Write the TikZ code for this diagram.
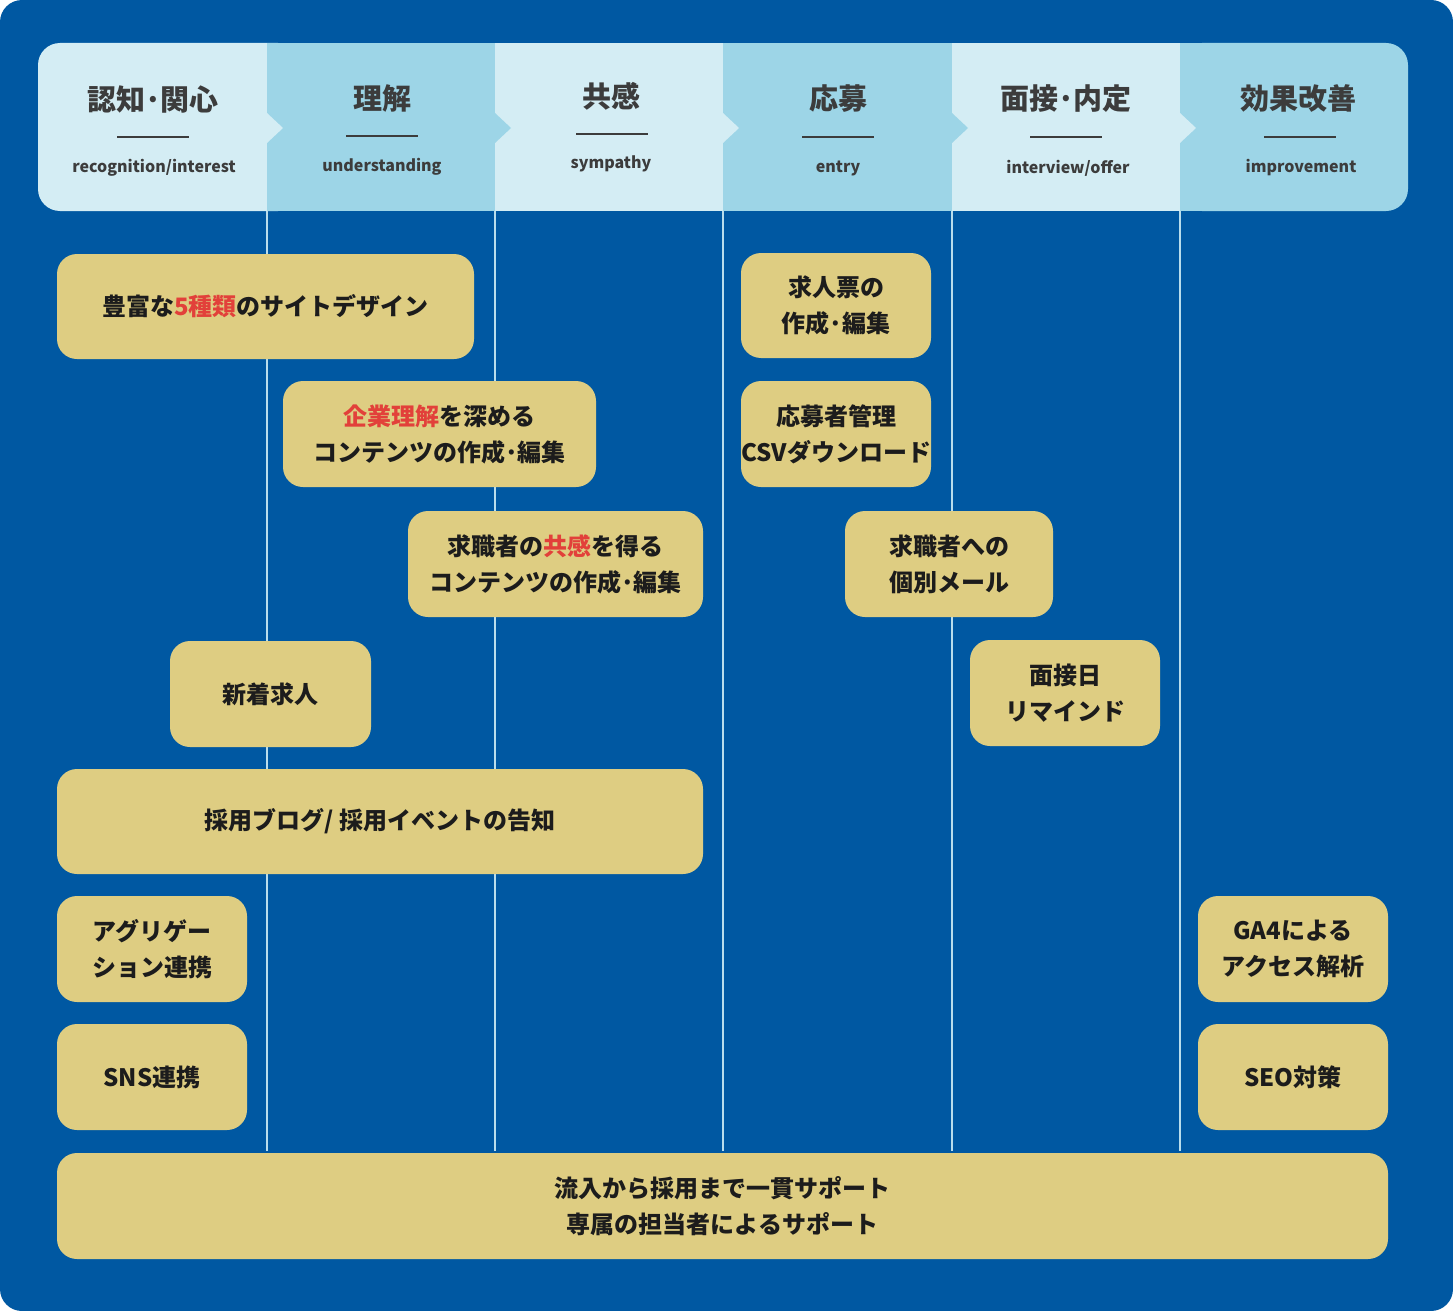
\documentclass[tikz,border=0pt]{standalone}
\usepackage{fontspec}
\setmainfont{Noto Sans CJK JP}
\definecolor{bgblue}{HTML}{0058A2}
\definecolor{hlight}{HTML}{D4EDF4}
\definecolor{hdark}{HTML}{9DD5E7}
\definecolor{gold}{HTML}{DECD82}
\definecolor{hred}{HTML}{E2403A}
\definecolor{htext}{HTML}{3C3C3C}
\definecolor{btext}{HTML}{1C1C1C}
\definecolor{vline}{HTML}{B9DDEC}
\tikzset{
  box/.style={fill=gold, rounded corners=20pt, inner sep=0pt, align=center,
    text=btext, font=\fontsize{24}{36}\selectfont\bfseries},
  htitle/.style={text=htext, font=\fontsize{29}{34}\selectfont\bfseries, inner sep=0pt},
  hsub/.style={text=htext, font=\fontsize{16}{18}\selectfont\bfseries, inner sep=0pt},
  hrule/.style={draw=htext, line width=1.6pt},
  colline/.style={draw=vline, line width=1.3pt}
}
\newcommand{\rd}[1]{\textcolor{hred}{#1}}
\newcommand{\dt}{\kern-0.05em·\kern-0.05em}
\begin{document}
\begin{tikzpicture}[x=1pt,y=-1pt]
\useasboundingbox (0,0) rectangle (1453,1311);
\fill[white] (0,0) rectangle (1453,1311);
\fill[bgblue, rounded corners=22pt] (0,0) rectangle (1453,1311);
% header columns
\fill[hdark, rounded corners=22pt] (1180,43) rectangle (1408,211);
\fill[hdark] (1180,43) rectangle (1240,211);
\fill[hlight, rounded corners=22pt] (38,43) rectangle (300,211);
\fill[hdark] (267,43) rectangle (495,211);
\fill[hlight] (495,43) rectangle (723,211);
\fill[hdark] (723,43) rectangle (952,211);
\fill[hlight] (952,43) rectangle (1180,211);
% chevrons
\fill[hlight] (267,113) -- (283,128) -- (267,143) -- cycle;
\fill[hdark] (495,113) -- (511,128) -- (495,143) -- cycle;
\fill[hlight] (723,113) -- (739,128) -- (723,143) -- cycle;
\fill[hdark] (952,113) -- (968,128) -- (952,143) -- cycle;
\fill[hlight] (1180,113) -- (1196,128) -- (1180,143) -- cycle;
% column lines
\foreach \x/\n in {267/a,495/b,723/c,952/d,1180/e}{
  \coordinate (top\n) at (\x,211);
  \coordinate (bot\n) at (\x,1151);
  \draw[colline] (top\n) -- (bot\n);
}
% header texts
\node[htitle] (t1) at (153,99) {認知\dt 関心};
\node[htitle] (t2) at (382,98) {理解};
\node[htitle] (t3) at (611,96) {共感};
\node[htitle] (t4) at (838,99) {応募};
\node[htitle] (t5) at (1066,99) {面接\dt 内定};
\node[htitle] (t6) at (1298,99) {効果改善};
\foreach \c/\y in {153/137,382/136,612/134,838/137,1066/137,1300/137}{
  \draw[hrule] (\c-36,\y) -- (\c+36,\y);
}
\node[hsub] (s1) at (154,168) {recognition/interest};
\node[hsub] (s2) at (382,167) {understanding};
\node[hsub] (s3) at (611,164) {sympathy};
\node[hsub] (s4) at (838,168) {entry};
\node[hsub] (s5) at (1068,168) {interview/offer};
\node[hsub] (s6) at (1301,168) {improvement};
% boxes
\node[box, minimum width=417pt, minimum height=105pt] (b1) at (265.5,306.5) {豊富な\rd{5種類}のサイトデザイン};
\node[box, minimum width=313pt, minimum height=106pt] (b2) at (439.5,434) {\rd{企業理解}を深める\\コンテンツの作成\dt 編集};
\node[box, minimum width=295pt, minimum height=106pt] (b3) at (555.5,564) {求職者の\rd{共感}を得る\\コンテンツの作成\dt 編集};
\node[box, minimum width=201pt, minimum height=106pt] (b4) at (270.5,694) {新着求人};
\node[box, minimum width=646pt, minimum height=105pt] (b5) at (380,821.5) {採用ブログ/ 採用イベントの告知};
\node[box, minimum width=190pt, minimum height=106pt] (b6) at (152,949) {アグリゲー\\ション連携};
\node[box, minimum width=190pt, minimum height=106pt] (b7) at (152,1077) {SNS連携};
\node[box, minimum width=190pt, minimum height=105pt] (b8) at (836,305.5) {求人票の\\作成\dt 編集};
\node[box, minimum width=190pt, minimum height=106pt] (b9) at (836,434) {応募者管理\\CSVダウンロード};
\node[box, minimum width=208pt, minimum height=106pt] (b10) at (949,564) {求職者への\\個別メール};
\node[box, minimum width=190pt, minimum height=106pt] (b11) at (1065,693) {面接日\\リマインド};
\node[box, minimum width=190pt, minimum height=106pt] (b12) at (1293,949) {GA4による\\アクセス解析};
\node[box, minimum width=190pt, minimum height=106pt] (b13) at (1293,1077) {SEO対策};
\node[box, minimum width=1331pt, minimum height=106pt] (b14) at (722.5,1206) {流入から採用まで一貫サポート\\専属の担当者によるサポート};
\end{tikzpicture}
\end{document}
